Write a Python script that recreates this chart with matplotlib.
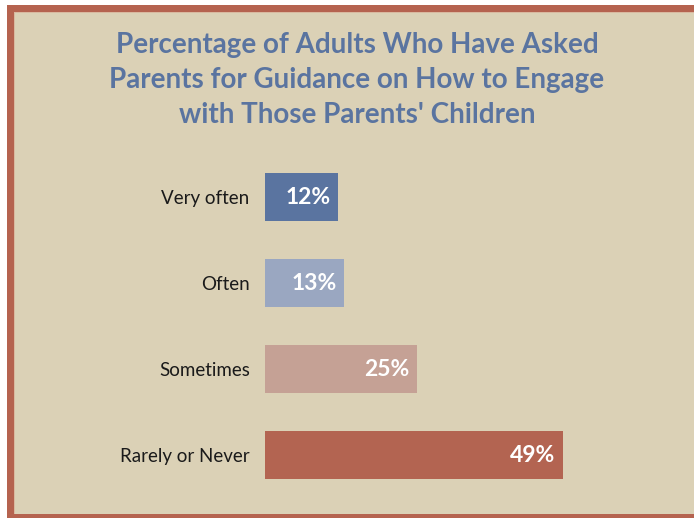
import matplotlib.pyplot as plt
from matplotlib.patches import Rectangle

categories = ["Very often", "Often", "Sometimes", "Rarely or Never"]
values = [12, 13, 25, 49]
bar_colors = ["#5a74a0", "#9aa7c1", "#c5a195", "#b36451"]
title = ("Percentage of Adults Who Have Asked\n"
         "Parents for Guidance on How to Engage\n"
         "with Those Parents' Children")

BG = "#dbd1b6"
BORDER = "#b5634f"
W, H = 694, 518
FONT = ["Lato", "DejaVu Sans"]

fig = plt.figure(figsize=(W / 100, H / 100), dpi=100)
fig.patch.set_facecolor("white")

# frame: white strip, red border, beige panel (right edge cropped off)
def px_rect(x0, y0, x1, y1, color, z):
    fig.patches.append(Rectangle((x0 / W, 1 - y1 / H), (x1 - x0) / W, (y1 - y0) / H,
                                 transform=fig.transFigure, color=color, zorder=z, lw=0))

px_rect(7, 5, W, 518, BORDER, 0)
px_rect(14, 12, W, 514, "#d9b9a0", 1)
px_rect(15, 13, W, 514, BG, 2)

fig.text(357 / W, 1 - 80 / H, title, ha="center", va="center", fontsize=20,
         fontweight="bold", color="#5a74a0", family=FONT, linespacing=1.43,
         zorder=5)

# axes: x=0 at px 265, 6.08 px per percent; bar centres every 86 px
ax_left, ax_right = 265, 650
ax_top, ax_bot = 154, 498
ax = fig.add_axes([ax_left / W, 1 - ax_bot / H, (ax_right - ax_left) / W, (ax_bot - ax_top) / H])
ax.set_facecolor("none")
ax.set_zorder(6)
ax.set_xlim(0, (ax_right - ax_left) / 6.08)
ax.set_ylim(3.5, -0.5)

ypos = list(range(len(categories)))
ax.barh(ypos, values, height=0.56, color=bar_colors)
for y, v in zip(ypos, values):
    ax.text(v - 1.2, y, f"{v}%", ha="right", va="center", color="white",
            fontsize=16.5, fontweight="bold", family=FONT)

ax.set_yticks(ypos)
ax.set_yticklabels(categories, fontsize=13.5, color="#1a1a1a", family=FONT)
ax.tick_params(axis="y", length=0, pad=11)
ax.set_xticks([])
for s in ax.spines.values():
    s.set_visible(False)

fig.savefig("out.png", dpi=100, facecolor=fig.get_facecolor())
